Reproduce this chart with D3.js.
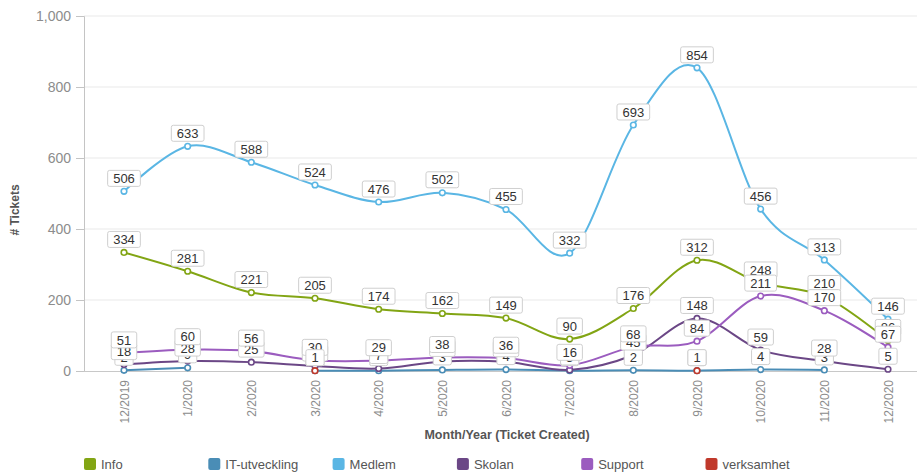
<!DOCTYPE html>
<html>
<head>
<meta charset="utf-8">
<script src="https://cdn.jsdelivr.net/npm/d3@7"></script>
<style>
  body { margin: 0; background: #fff; }
  text { font-family: "Liberation Sans", Arial, sans-serif; }
</style>
</head>
<body>
<div id="chart"></div>
<script>
const MARGIN = { LEFT: 84, RIGHT: 0, TOP: 16, BOTTOM: 101 };
const WIDTH = 917;
const HEIGHT = 472;

const months = ["12/2019", "1/2020", "2/2020", "3/2020", "4/2020", "5/2020", "6/2020",
                "7/2020", "8/2020", "9/2020", "10/2020", "11/2020", "12/2020"];

const seriesNames = ["Info", "IT-utveckling", "Medlem", "Skolan", "Support", "verksamhet"];
const seriesColors = ["#82a514", "#4a8db6", "#5ab6e4", "#6b4786", "#9b5cbf", "#c0392b"];

const info = [334, 281, 221, 205, 174, 162, 149, 90, 176, 312, 248, 210, 86];
const itUtveckling = [2, 9, null, 1, 1, 3, 4, 1, 2, 1, 4, 3, null];
const medlem = [506, 633, 588, 524, 476, 502, 455, 332, 693, 854, 456, 313, 146];
const skolan = [18, 28, 25, 14, 7, 27, 26, 3, 45, 148, 59, 28, 5];
const support = [51, 60, 56, 30, 29, 38, 36, 16, 68, 84, 211, 170, 67];
const verksamhet = [null, null, null, 1, null, null, null, null, null, 1, null, null, null];

const yTicks = [0, 200, 400, 600, 800, 1000];

const allValues = [info, itUtveckling, medlem, skolan, support, verksamhet];
const series = seriesNames.map((name, i) => ({
    name: name,
    color: seriesColors[i],
    points: months.map((m, j) => ({ month: m, value: allValues[i][j] }))
}));

const svg = d3.select("#chart")
    .append("svg")
    .attr("width", WIDTH)
    .attr("height", HEIGHT);

const plotBottom = HEIGHT - MARGIN.BOTTOM;

const xScale = d3.scalePoint()
    .domain(months)
    .range([124, 888]);

const yScale = d3.scaleLinear()
    .domain([0, 1000])
    .range([plotBottom, MARGIN.TOP]);

// gridlines
svg.append("g")
    .selectAll("line")
    .data(yTicks.filter(d => d > 0))
    .enter().append("line")
    .attr("x1", MARGIN.LEFT)
    .attr("x2", WIDTH)
    .attr("y1", d => yScale(d))
    .attr("y2", d => yScale(d))
    .attr("stroke", "#e9e9e9")
    .attr("stroke-width", 1);

// y axis
const yAxis = svg.append("g")
    .attr("transform", `translate(${MARGIN.LEFT}, 0)`)
    .call(d3.axisLeft(yScale).tickValues(yTicks).tickFormat(d3.format(",")).tickSize(8).tickPadding(5));
yAxis.select(".domain").attr("stroke", "#c4c4c4");
yAxis.selectAll(".tick line").attr("stroke", "#c4c4c4");
yAxis.selectAll("text")
    .attr("fill", "#8c8c8c")
    .style("font-size", "14px")
    .style("font-family", "Liberation Sans, Arial, sans-serif");

// x axis
const xAxis = svg.append("g")
    .attr("transform", `translate(0, ${plotBottom})`)
    .call(d3.axisBottom(xScale).tickSize(0));
xAxis.select(".domain")
    .attr("d", `M${MARGIN.LEFT},0.5H${WIDTH}`)
    .attr("stroke", "#c8c8c8");
xAxis.selectAll("text")
    .attr("transform", "rotate(-90)")
    .attr("x", -9)
    .attr("y", 0)
    .attr("dy", "0.35em")
    .style("text-anchor", "end")
    .attr("fill", "#8c8c8c")
    .style("font-size", "12px")
    .style("font-family", "Liberation Sans, Arial, sans-serif");

// axis titles
svg.append("text")
    .attr("transform", `translate(19, 210) rotate(-90)`)
    .attr("text-anchor", "middle")
    .attr("font-size", "12px")
    .attr("font-weight", "bold")
    .attr("fill", "#555")
    .text("# Tickets");

svg.append("text")
    .attr("x", 507)
    .attr("y", 439)
    .attr("text-anchor", "middle")
    .attr("font-size", "12.5px")
    .attr("font-weight", "bold")
    .attr("fill", "#555")
    .text("Month/Year (Ticket Created)");

// lines
const line = d3.line()
    .defined(d => d.value != null)
    .x(d => xScale(d.month))
    .y(d => yScale(d.value))
    .curve(d3.curveCardinal.tension(0));

svg.append("g")
    .selectAll("path")
    .data(series)
    .enter().append("path")
    .attr("fill", "none")
    .attr("stroke", d => d.color)
    .attr("stroke-width", 2)
    .attr("d", d => line(d.points));

// markers
series.forEach(s => {
    svg.append("g")
        .selectAll("circle")
        .data(s.points.filter(p => p.value != null))
        .enter().append("circle")
        .attr("cx", d => xScale(d.month))
        .attr("cy", d => yScale(d.value))
        .attr("r", 2.8)
        .attr("fill", "#fff")
        .attr("stroke", s.color)
        .attr("stroke-width", 1.6);
});

// data labels
series.forEach(s => {
    const g = svg.append("g")
        .selectAll("g")
        .data(s.points.filter(p => p.value != null))
        .enter().append("g")
        .attr("transform", d => `translate(${xScale(d.month)}, ${yScale(d.value) - 13})`);

    const txt = g.append("text")
        .attr("text-anchor", "middle")
        .attr("dy", "0.36em")
        .attr("font-size", "13px")
        .attr("fill", "#333")
        .text(d => d.value);

    txt.each(function () {
        const w = this.getComputedTextLength() + 11;
        d3.select(this.parentNode).insert("rect", "text")
            .attr("x", -w / 2)
            .attr("y", -8)
            .attr("width", w)
            .attr("height", 16)
            .attr("rx", 2)
            .attr("fill", "#fff")
            .attr("stroke", "#cfcfcf")
            .attr("stroke-width", 1);
    });
});

// legend
const legend = svg.append("g")
    .selectAll("g")
    .data(series)
    .enter().append("g")
    .attr("transform", (d, i) => `translate(${84 + i * 124.3}, 458)`);

legend.append("rect")
    .attr("width", 12)
    .attr("height", 12)
    .attr("rx", 2)
    .attr("fill", d => d.color);

legend.append("text")
    .attr("x", 17)
    .attr("y", 6)
    .attr("dy", "0.36em")
    .attr("font-size", "13px")
    .attr("fill", "#555")
    .text(d => d.name);
</script>
</body>
</html>
